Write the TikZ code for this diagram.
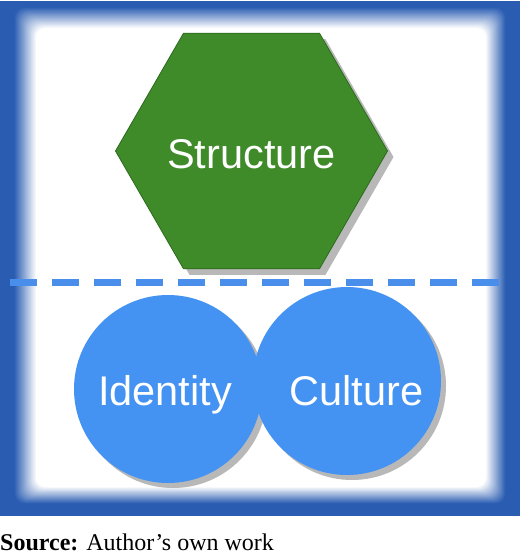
\documentclass[tikz,border=0pt]{standalone}
\usepackage{fontspec}
\setmainfont{Liberation Serif}
\newfontfamily\diagfont{Liberation Sans}
\usetikzlibrary{shapes.geometric}
\definecolor{frameblue}{HTML}{2A5DB2}
\definecolor{hexgreen}{HTML}{3F8B2A}
\definecolor{hexedge}{HTML}{2C6A1C}
\definecolor{circblue}{HTML}{4492F1}
\definecolor{dashblue}{HTML}{4A8EEC}
\definecolor{shadowgray}{HTML}{B8B8B8}
\tikzset{
  hexshape/.style={regular polygon, regular polygon sides=6, minimum size=272pt, inner sep=0pt},
  hexbox/.style={hexshape, fill=hexgreen, draw=hexedge, line width=0.8pt},
  hexshadow/.style={hexshape, fill=shadowgray},
  circshape/.style={circle, minimum size=188pt, inner sep=0pt},
  circbox/.style={circshape, fill=circblue},
  circshadow/.style={circshape, fill=shadowgray},
  label text/.style={anchor=base, inner sep=0pt, text=white, font=\diagfont\fontsize{41.5}{48}\selectfont},
  divider/.style={dashblue, line width=7pt, dash pattern=on 27pt off 15pt},
  caption/.style={anchor=base west, inner sep=0pt, font=\fontsize{24}{28}\selectfont}
}
\begin{document}
\begin{tikzpicture}[x=1pt,y=-1pt]
\useasboundingbox (0,0) rectangle (520,554);
% frame with soft inner edge
\fill[frameblue] (0,1) rectangle (520,516);
\foreach \i in {0,...,30}{
  \pgfmathsetmacro\t{\i/30}
  \pgfmathsetmacro\pc{100*\t}
  \fill[white!\pc!frameblue, rounded corners=10pt] ({14+22*\t},{7+21*\t}) rectangle ({506-20*\t},{504-17*\t});
}
% divider
\coordinate (dl) at (10,282);
\coordinate (dr) at (506,282);
\draw[divider] (dl) -- (dr);
% hexagon
\node[hexshadow] (hexsh) at (257.5,157) {};
\node[hexbox] (structure) at (251.5,151) {};
\node[label text] (structuretext) at (251.5,168) {Structure};
% circles
\node[circshadow] (idsh) at (173,394) {};
\node[circshadow] (cush) at (352,386) {};
\node[circbox] (identity) at (168,389) {};
\node[circbox] (culture) at (347,381) {};
\node[label text] (identitytext) at (165,405) {Identity};
\node[label text] (culturetext) at (356.5,405) {Culture};
% caption
\node[caption] (src) at (0,550) {\textbf{Source:} Author’s own work};
\end{tikzpicture}
\end{document}
